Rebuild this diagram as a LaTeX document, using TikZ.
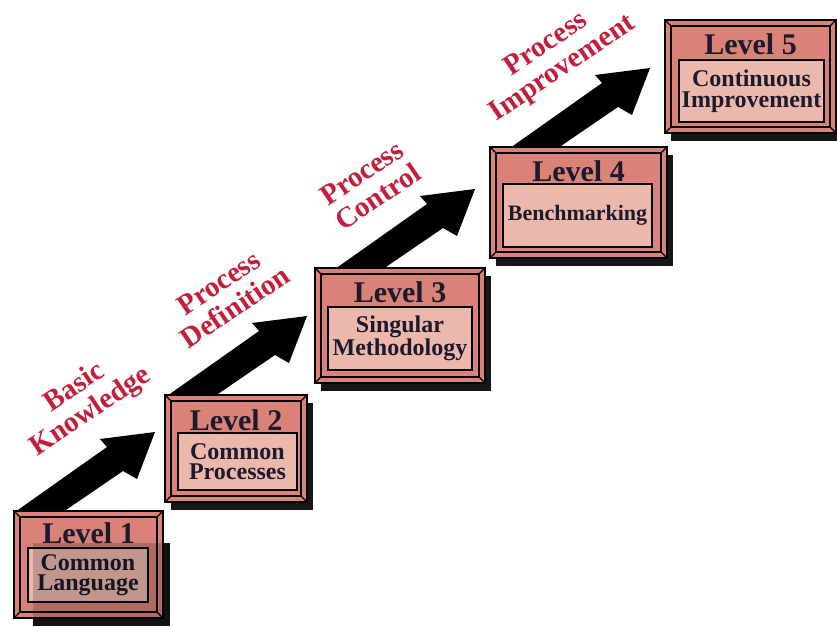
\documentclass[tikz,border=0pt]{standalone}
\usepackage{fontspec}
\setmainfont{Liberation Serif}
\usetikzlibrary{backgrounds}

\definecolor{frameRed}{HTML}{DA8278}
\definecolor{panelPink}{HTML}{ECB8AC}
\definecolor{inkNavy}{HTML}{1C1A2C}
\definecolor{stageRed}{HTML}{C41E3A}
\definecolor{shade}{HTML}{161616}

\tikzset{
  frame/.style={draw=black, line width=2pt, fill=frameRed, outer sep=0pt,
    inner sep=0pt, anchor=north west},
  bevel/.style={draw=black, line width=1.1pt},
  panel/.style={draw=black, line width=2.6pt, fill=panelPink, outer sep=0pt,
    inner sep=0pt, anchor=north west, align=center, text=inkNavy,
    font=\bfseries\fontsize{24}{20.5}\selectfont},
  lvl/.style={text=inkNavy, font=\bfseries\fontsize{30}{30}\selectfont, inner sep=0pt},
  stage/.style={text=stageRed, font=\bfseries\fontsize{29}{29}\selectfont,
    align=center, rotate=34, inner sep=0pt},
  climb/.style={fill=black},
  dropshadow/.style={fill=shade},
}

% bevelled level frame: name, x, y, width, height
\newcommand\levelframe[5]{%
  \node[frame, minimum width=#4pt, minimum height=#5pt] (#1) at (#2,#3) {};
  \draw[bevel] ([shift={(6,6)}]#1.north west) rectangle ([shift={(-6,-6)}]#1.south east);
  \draw[bevel] (#1.north west) -- ++(6,6) (#1.north east) -- ++(-6,6)
               (#1.south west) -- ++(6,-6) (#1.south east) -- ++(-6,-6);
}

% thick stair arrow starting at a base point
\newcommand\climbarrow[1]{%
  \fill[climb] (#1) -- ++(92,-65) -- ++(-7,-8) -- ++(55,-7) -- ++(-18,47)
    -- ++(-14,-8) -- ++(-60,41) -- cycle;
}

\begin{document}
\begin{tikzpicture}[x=1pt, y=-1pt]
\useasboundingbox (0,0) rectangle (837,626);

% frames
\levelframe{L1}{14}{511}{149}{107}
\levelframe{L2}{165}{395}{142}{107}
\levelframe{L3}{315}{268}{170}{115}
\levelframe{L4}{490}{147}{177}{111}
\levelframe{L5}{665}{20}{171}{113}

% shadows and arrows behind the frames
\begin{scope}[on background layer]
  \fill[dropshadow] ([shift={(19,32)}]L1.north west) rectangle ([shift={(7,8)}]L1.south east);
  \foreach \n in {L2,L3,L4,L5}
    \fill[dropshadow] ([shift={(6,8)}]\n.north west) rectangle ([shift={(6,8)}]\n.south east);
  \coordinate (A1) at ([shift={(1,1)}]L1.north west);
  \coordinate (A2) at ([shift={(2,1)}]L2.north west);
  \coordinate (A3) at ([shift={(20,1)}]L3.north west);
  \coordinate (A4) at ([shift={(20,1)}]L4.north west);
  \climbarrow{A1}
  \climbarrow{A2}
  \climbarrow{A3}
  \climbarrow{A4}
\end{scope}

% titles
\node[lvl] (T1) at ([shift={(0,22)}]L1.north) {Level 1};
\node[lvl] (T2) at ([shift={(0,25)}]L2.north) {Level 2};
\node[lvl] (T3) at ([shift={(0,24)}]L3.north) {Level 3};
\node[lvl] (T4) at ([shift={(0,24)}]L4.north) {Level 4};
\node[lvl] (T5) at ([shift={(0,24)}]L5.north) {Level 5};

% inner panels
\node[panel, minimum width=120pt, minimum height=54pt] (P1) at (28,548) {Common\\Language};
\node[panel, minimum width=119pt, minimum height=57pt] (P2) at (178,433) {Common\\Processes};
\node[panel, minimum width=144pt, minimum height=63pt] (P3) at (328,307) {Singular\\Methodology};
\node[panel, minimum width=149pt, minimum height=63pt,
      font=\bfseries\fontsize{22}{20.5}\selectfont] (P4) at (503,184) {Benchmarking};
\node[panel, minimum width=145pt, minimum height=62pt] (P5) at (679,60) {Continuous\\Improvement};

% overlapping shade on the first step
\fill[black, opacity=0.18] ([shift={(19,32)}]L1.north west) rectangle ([shift={(7,8)}]L1.south east);

% stage labels
\node[stage] (S1) at (83,400) {Basic\\Knowledge};
\node[stage] (S2) at (227,295) {Process\\Definition};
\node[stage] (S3) at (370,185) {Process\\Control};
\node[stage] (S4) at (555,57) {Process\\Improvement};
\end{tikzpicture}
\end{document}
